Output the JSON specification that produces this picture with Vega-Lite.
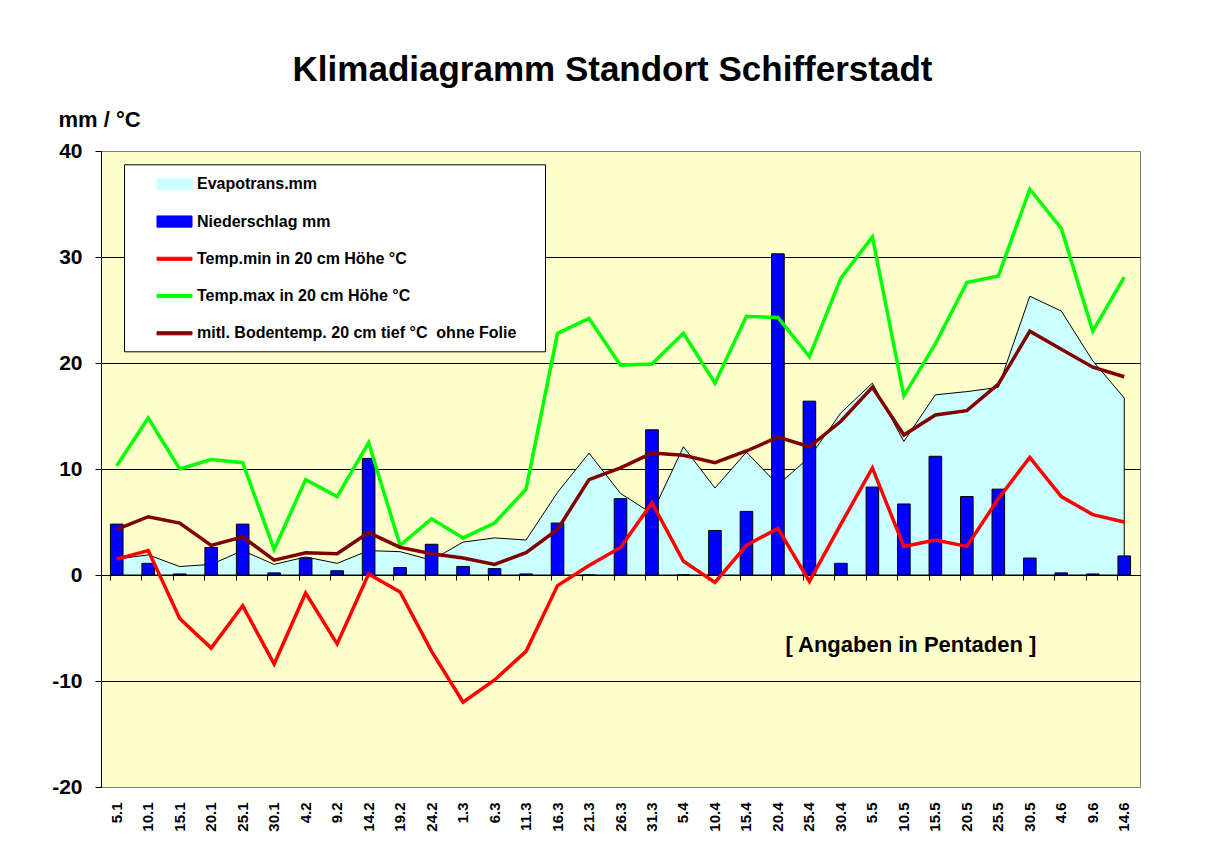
{
  "$schema": "https://vega.github.io/schema/vega-lite/v6.json",
  "width": 1039,
  "height": 636,
  "autosize": {"type": "none"},
  "padding": {"left": 101, "top": 151, "right": 75, "bottom": 77},
  "background": "white",
  "title": {
    "text": "Klimadiagramm Standort Schifferstadt",
    "font": "Liberation Sans",
    "fontSize": 35,
    "fontWeight": "bold",
    "color": "black",
    "anchor": "middle",
    "frame": "group",
    "dx": -8,
    "offset": 20
  },
  "config": {
    "font": "Liberation Sans",
    "view": {"fill": "#FFFFCC", "stroke": "#808080", "strokeWidth": 1}
  },
  "data": {
    "values": [
      {"p": "5.1", "evap": 1.5, "nied": 4.8, "tmin": 1.5, "tmax": 10.3, "boden": 4.3},
      {"p": "10.1", "evap": 1.9, "nied": 1.1, "tmin": 2.3, "tmax": 14.8, "boden": 5.5},
      {"p": "15.1", "evap": 0.8, "nied": 0.1, "tmin": -4.1, "tmax": 10.0, "boden": 4.9},
      {"p": "20.1", "evap": 1.0, "nied": 2.6, "tmin": -6.9, "tmax": 10.9, "boden": 2.8},
      {"p": "25.1", "evap": 2.3, "nied": 4.8, "tmin": -2.9, "tmax": 10.6, "boden": 3.6},
      {"p": "30.1", "evap": 1.0, "nied": 0.2, "tmin": -8.4, "tmax": 2.4, "boden": 1.4},
      {"p": "4.2", "evap": 1.7, "nied": 1.6, "tmin": -1.7, "tmax": 9.0, "boden": 2.1},
      {"p": "9.2", "evap": 1.1, "nied": 0.4, "tmin": -6.5, "tmax": 7.4, "boden": 2.0},
      {"p": "14.2", "evap": 2.3, "nied": 11.0, "tmin": 0.1, "tmax": 12.5, "boden": 4.0},
      {"p": "19.2", "evap": 2.2, "nied": 0.7, "tmin": -1.6, "tmax": 2.8, "boden": 2.6},
      {"p": "24.2", "evap": 1.4, "nied": 2.9, "tmin": -7.2, "tmax": 5.3, "boden": 2.0},
      {"p": "1.3", "evap": 3.1, "nied": 0.8, "tmin": -12.0, "tmax": 3.5, "boden": 1.6},
      {"p": "6.3", "evap": 3.5, "nied": 0.6, "tmin": -9.9, "tmax": 4.9, "boden": 1.0},
      {"p": "11.3", "evap": 3.3, "nied": 0.1, "tmin": -7.2, "tmax": 8.1, "boden": 2.1},
      {"p": "16.3", "evap": 7.8, "nied": 4.9, "tmin": -1.0, "tmax": 22.8, "boden": 4.3},
      {"p": "21.3", "evap": 11.5, "nied": 0, "tmin": 0.9, "tmax": 24.2, "boden": 9.0},
      {"p": "26.3", "evap": 7.7, "nied": 7.2, "tmin": 2.6, "tmax": 19.8, "boden": 10.1},
      {"p": "31.3", "evap": 5.8, "nied": 13.7, "tmin": 6.8, "tmax": 19.9, "boden": 11.5},
      {"p": "5.4", "evap": 12.1, "nied": 0, "tmin": 1.3, "tmax": 22.8, "boden": 11.3},
      {"p": "10.4", "evap": 8.2, "nied": 4.2, "tmin": -0.7, "tmax": 18.1, "boden": 10.6},
      {"p": "15.4", "evap": 11.6, "nied": 6.0, "tmin": 2.8, "tmax": 24.4, "boden": 11.7},
      {"p": "20.4", "evap": 8.5, "nied": 30.3, "tmin": 4.4, "tmax": 24.3, "boden": 13.0},
      {"p": "25.4", "evap": 11.1, "nied": 16.4, "tmin": -0.6, "tmax": 20.6, "boden": 12.1},
      {"p": "30.4", "evap": 15.3, "nied": 1.1, "tmin": 4.8, "tmax": 28.0, "boden": 14.5},
      {"p": "5.5", "evap": 18.1, "nied": 8.3, "tmin": 10.1, "tmax": 31.9, "boden": 17.7},
      {"p": "10.5", "evap": 12.6, "nied": 6.7, "tmin": 2.7, "tmax": 16.9, "boden": 13.2},
      {"p": "15.5", "evap": 17.0, "nied": 11.2, "tmin": 3.3, "tmax": 21.8, "boden": 15.1},
      {"p": "20.5", "evap": 17.3, "nied": 7.4, "tmin": 2.7, "tmax": 27.6, "boden": 15.5},
      {"p": "25.5", "evap": 17.7, "nied": 8.1, "tmin": 7.2, "tmax": 28.2, "boden": 18.0},
      {"p": "30.5", "evap": 26.3, "nied": 1.6, "tmin": 11.1, "tmax": 36.4, "boden": 23.0},
      {"p": "4.6", "evap": 24.9, "nied": 0.2, "tmin": 7.4, "tmax": 32.7, "boden": 21.3},
      {"p": "9.6", "evap": 20.2, "nied": 0.1, "tmin": 5.7, "tmax": 23.0, "boden": 19.6},
      {"p": "14.6", "evap": 16.7, "nied": 1.8, "tmin": 5.0, "tmax": 28.1, "boden": 18.7}
    ]
  },
  "resolve": {"axis": {"x": "independent"}},
  "layer": [
    {
      "mark": {"type": "area", "stroke": "black", "strokeWidth": 1, "opacity": 1},
      "encoding": {
        "x": {
          "field": "p", "type": "nominal", "sort": null,
          "scale": {"type": "band", "paddingInner": 0.6, "paddingOuter": 0.3},
          "axis": {
            "orient": "bottom", "title": null, "domain": false, "ticks": false, "grid": false,
            "labelAngle": -90, "labelPadding": 15, "labelFontSize": 15, "labelFontWeight": "bold",
            "labelColor": "black", "labelOverlap": false, "labelFont": "Liberation Sans"
          }
        },
        "y": {
          "field": "evap", "type": "quantitative",
          "scale": {"domain": [-20, 40], "nice": false},
          "axis": {
            "values": [-20, -10, 0, 10, 20, 30, 40],
            "labelExpr": "'' + datum.value",
            "grid": true,
            "gridColor": {"condition": {"test": "datum.value === 40 || datum.value === -20", "value": "#808080"}, "value": "black"},
            "gridWidth": 1,
            "domain": true, "domainColor": "black",
            "ticks": true, "tickSize": 6, "tickColor": "black",
            "labelFont": "Liberation Sans", "labelFontSize": 21, "labelFontWeight": "bold", "labelColor": "black", "labelPadding": 13,
            "title": "mm / °C", "titleAngle": 0, "titleAlign": "left", "titleBaseline": "alphabetic",
            "titleX": -43, "titleY": -25, "titleFont": "Liberation Sans", "titleFontSize": 22, "titleFontWeight": "bold", "titleColor": "black"
          }
        },
        "color": {
          "datum": "Evapotrans.mm",
          "scale": {
            "domain": ["Evapotrans.mm", "Niederschlag mm", "Temp.min in 20 cm Höhe °C", "Temp.max in 20 cm Höhe °C", "mitl. Bodentemp. 20 cm tief °C  ohne Folie"],
            "range": ["#CCFFFF", "#0000FF", "#FF0000", "#00FF00", "#800000"]
          },
          "legend": {
            "orient": "none", "legendX": 23, "legendY": 13.3, "direction": "vertical",
            "title": ".", "titleOrient": "right", "titleColor": "white", "titlePadding": 22, "titleFontSize": 16,
            "fillColor": "white", "strokeColor": "black", "padding": 2,
            "symbolSize": 1225, "symbolOffset": 30.5, "symbolStrokeWidth": 1,
            "labelOffset": 4.5, "rowPadding": 3.25,
            "labelFont": "Liberation Sans", "labelFontSize": 16, "labelFontWeight": "bold", "labelColor": "black", "labelLimit": 1000,
            "labelExpr": "replace(datum.label, '  ', ' \u00a0')",
            "encoding": {
              "symbols": {
                "shape": {"value": {"expr": "(datum.value === 'Evapotrans.mm' || datum.value === 'Niederschlag mm') ? 'M0,-0.8M-1,-0.32H1V0.32H-1ZM0,0.8' : 'M0,-0.8M-1,-0.09H1V0.09H-1ZM0,0.8'"}},
                "fill": {"value": {"expr": "scale('color', datum.value)"}},
                "stroke": {"value": {"expr": "(datum.value === 'Evapotrans.mm' || datum.value === 'Niederschlag mm') ? 'black' : scale('color', datum.value)"}},
                "strokeWidth": {"value": 1},
                "opacity": {"value": 1},
                "fillOpacity": {"value": 1}
              }
            }
          }
        }
      }
    },
    {
      "mark": {"type": "bar", "stroke": "black", "strokeWidth": 1},
      "encoding": {
        "x": {
          "field": "p", "type": "nominal", "sort": null,
          "axis": {
            "orient": "bottom", "offset": -212, "title": null, "labels": false, "grid": false,
            "domain": true, "domainColor": "black", "ticks": true, "tickSize": 5, "tickColor": "black", "bandPosition": 0
          }
        },
        "y": {"field": "nied", "type": "quantitative"},
        "color": {"datum": "Niederschlag mm", "legend": null}
      }
    },
    {
      "mark": {"type": "line", "strokeWidth": 3.5},
      "encoding": {
        "x": {"field": "p", "type": "nominal", "sort": null, "axis": null},
        "y": {"field": "tmin", "type": "quantitative"},
        "color": {"datum": "Temp.min in 20 cm Höhe °C", "legend": null}
      }
    },
    {
      "mark": {"type": "line", "strokeWidth": 3.5},
      "encoding": {
        "x": {"field": "p", "type": "nominal", "sort": null, "axis": null},
        "y": {"field": "tmax", "type": "quantitative"},
        "color": {"datum": "Temp.max in 20 cm Höhe °C", "legend": null}
      }
    },
    {
      "mark": {"type": "line", "strokeWidth": 3.5},
      "encoding": {
        "x": {"field": "p", "type": "nominal", "sort": null, "axis": null},
        "y": {"field": "boden", "type": "quantitative"},
        "color": {"datum": "mitl. Bodentemp. 20 cm tief °C  ohne Folie", "legend": null}
      }
    },
    {
      "transform": [{"filter": "datum.p === '10.5'"}],
      "mark": {"type": "text", "text": "[ Angaben in Pentaden ]", "font": "Liberation Sans", "fontSize": 22, "fontWeight": "bold", "color": "black", "align": "center", "baseline": "middle", "dx": 7},
      "encoding": {
        "x": {"field": "p", "type": "nominal", "sort": null, "axis": null},
        "y": {"datum": -6.6, "type": "quantitative"}
      }
    }
  ]
}
